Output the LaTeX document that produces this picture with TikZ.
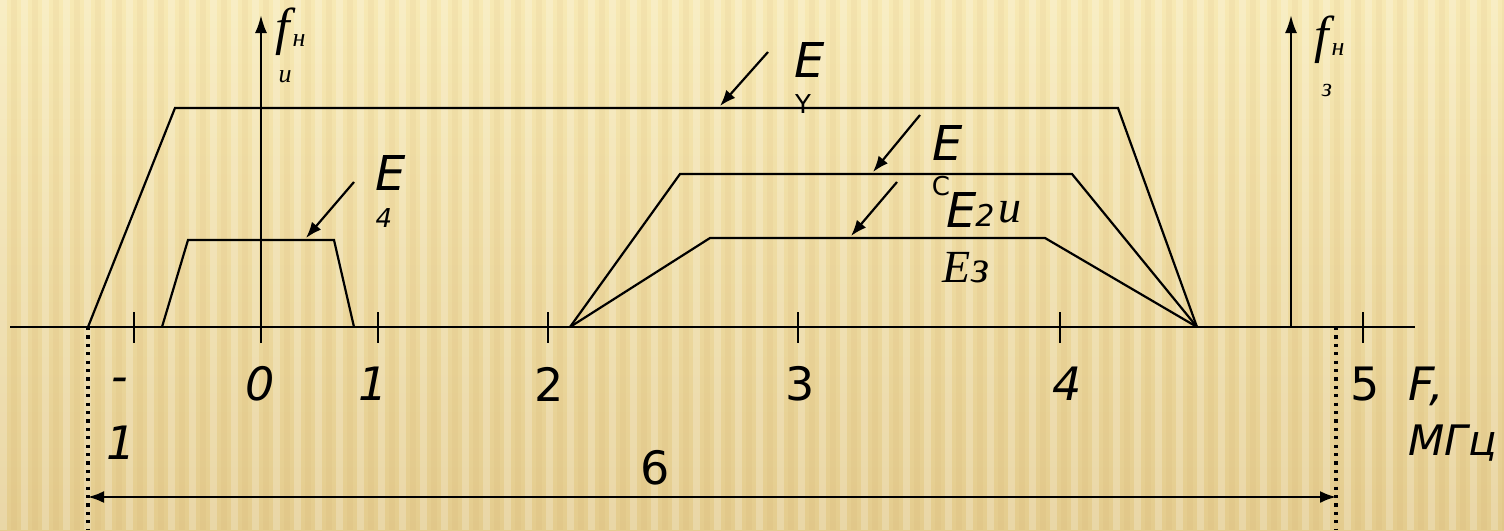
\documentclass[tikz,border=0pt]{standalone}
\usepackage{fontspec}
\usetikzlibrary{arrows.meta}
\setmainfont{Liberation Serif}
\setsansfont{DejaVu Sans}
\newfontfamily\labfont{DejaVu Sans}
\definecolor{paperlight}{RGB}{247,233,180}
\definecolor{paperdark}{RGB}{228,204,142}
\tikzset{
  axisline/.style={line width=1.2pt},
  specline/.style={line width=1.1pt},
  pointer/.style={line width=1.1pt,-{Latex[length=8pt,width=6pt]}},
  dotline/.style={line width=1.6pt,dash pattern=on 1.6pt off 2.6pt},
  bigE/.style={font=\labfont\itshape\fontsize{24}{24}\selectfont,inner sep=0pt},
  tick/.style={font=\labfont\fontsize{23}{23}\selectfont,inner sep=0pt},
  ticki/.style={font=\labfont\itshape\fontsize{23}{23}\selectfont,inner sep=0pt},
  subl/.style={font=\labfont\fontsize{13}{13}\selectfont,inner sep=0pt},
  serifi/.style={font=\rmfamily\itshape\fontsize{23}{23}\selectfont,inner sep=0pt},
  serifs/.style={font=\rmfamily\itshape\fontsize{13}{13}\selectfont,inner sep=0pt},
  bigf/.style={font=\rmfamily\itshape\fontsize{26}{26}\selectfont,inner sep=0pt}
}
\begin{document}
\begin{tikzpicture}[x=0.5pt,y=-0.5pt]
  \useasboundingbox (0,0) rectangle (1504,530);
  % background
  \shade[top color=paperlight,bottom color=paperdark] (0,0) rectangle (1504,530);
  \foreach \s in {0,21,...,1504}
    \fill[white,opacity=0.22] (\s,0) rectangle ++(7,530);
  \foreach \s in {11,32,...,1504}
    \fill[brown,opacity=0.06] (\s,0) rectangle ++(6,530);
  % axes
  \draw[axisline] (10,327) -- (1415,327);
  \draw[axisline,-{Latex[length=9pt,width=6pt]}] (261,343) -- (261,15);
  \draw[axisline,-{Latex[length=9pt,width=6pt]}] (1291,327) -- (1291,15);
  \foreach \t in {134,378,548,798,1060,1363}
    \draw[axisline] (\t,312) -- (\t,343);
  % axis labels
  \node[ticki] (m1a) at (120,385) {-};
  \node[ticki] (m1b) at (121,443) {1};
  \node[ticki] (t0) at (260,384) {0};
  \node[ticki] (t1) at (373,384) {1};
  \node[tick] (t2) at (549,384) {2};
  \node[tick] (t3) at (800,384) {3};
  \node[ticki] (t4) at (1067,384) {4};
  \node[tick] (t5) at (1365,384) {5};
  \node[ticki] (fax) at (1426,386) {F,};
  \node[ticki,anchor=east,font=\labfont\itshape\fontsize{21}{21}\selectfont] (unit) at (1497,443) {МГц};
  % vertical axis labels
  \node[bigf] (fl) at (283,32) {f};
  \node[serifs] (fln) at (299,41) {н};
  \node[serifs] (fli) at (285,77) {и};
  \node[bigf] (fr) at (1322,40) {f};
  \node[serifs] (frn) at (1338,50) {н};
  \node[serifs] (frz) at (1327,90) {з};
  % width of band
  \draw[dotline] (88,327) -- (88,530);
  \draw[dotline] (1336,327) -- (1336,530);
  \coordinate (bl) at (88,497);
  \coordinate (br) at (1336,497);
  \draw[line width=1.1pt,{Latex[length=8pt,width=6pt]}-{Latex[length=8pt,width=6pt]}] (bl) -- (br);
  \node[tick] (six) at (655,468) {6};
  % spectra
  \draw[specline] (88,327) -- (175,108) -- (1118,108) -- (1197,327);
  \draw[specline] (570,327) -- (680,174) -- (1072,174) -- (1197,327);
  \draw[specline] (570,327) -- (710,238) -- (1045,238) -- (1197,327);
  \draw[specline] (162,327) -- (188,240) -- (334,240) -- (354,327);
  % pointers
  \coordinate (pY) at (720,106);
  \coordinate (pC) at (873,172);
  \coordinate (p2) at (851,236);
  \coordinate (p4) at (306,238);
  \draw[pointer] (768,52) -- (pY);
  \draw[pointer] (920,115) -- (pC);
  \draw[pointer] (897,182) -- (p2);
  \draw[pointer] (354,182) -- (p4);
  % labels
  \node[bigE] (eY) at (810,60) {E};
  \node[subl] (sY) at (803,104) {Y};
  \node[bigE] (eC) at (948,143) {E};
  \node[subl] (sC) at (941,186) {C};
  \node[bigE] (e2) at (962,210) {E};
  \node[subl,font=\labfont\itshape\fontsize{15}{15}\selectfont] (s2) at (985,215) {2};
  \node[serifi] (s2u) at (1010,212) {u};
  \node[serifi] (e3) at (966,268) {Eз};
  \node[bigE] (e4) at (391,173) {E};
  \node[subl,font=\labfont\itshape\fontsize{13}{13}\selectfont] (s4) at (384,218) {4};
\end{tikzpicture}
\end{document}
